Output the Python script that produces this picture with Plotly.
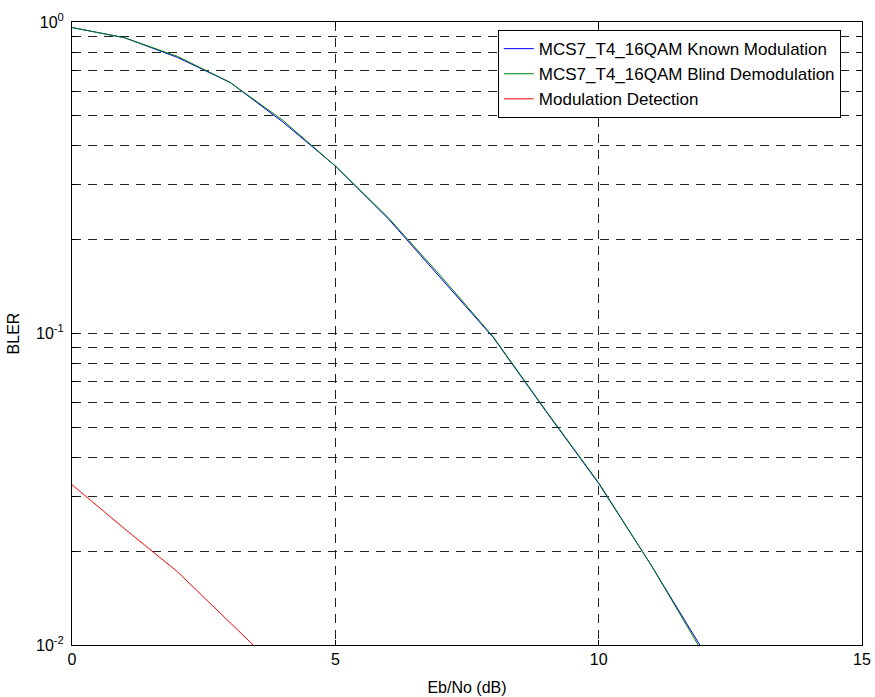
import plotly.graph_objects as go

# ---- data ----
ebno = [0, 1, 2, 3, 4, 5, 6, 7, 8, 9, 10, 11, 12]
bler_known = [0.960, 0.890, 0.770, 0.640, 0.478, 0.345, 0.234, 0.151, 0.0970, 0.0562, 0.0330, 0.0180, 0.0095]
bler_blind = [0.960, 0.890, 0.776, 0.640, 0.484, 0.345, 0.236, 0.153, 0.0975, 0.0565, 0.0332, 0.0180, 0.0093]
ebno_det = [0, 1, 2, 3, 4]
det_err = [0.0327, 0.0236, 0.0172, 0.0118, 0.0081]

x_ticks = [0, 5, 10, 15]
decades = [-2, -1, 0]

y_major = [10.0 ** d for d in decades]
y_major_text = [f"10<sup>{d}</sup>" for d in decades]
y_minor = [m * 10.0 ** d for d in decades[:-1] for m in range(2, 10)]

FONT = "Liberation Sans, Arial, sans-serif"
GRID = "#222"
DASH = "9px,7px"

fig = go.Figure()
fig.add_trace(go.Scatter(x=ebno, y=bler_known, mode="lines", name="MCS7_T4_16QAM Known Modulation",
                         line=dict(color="#0000ff", width=1), legendgroup="a"))
fig.add_trace(go.Scatter(x=ebno, y=bler_blind, mode="lines", name="MCS7_T4_16QAM Blind Demodulation",
                         line=dict(color="#008000", width=1), legendgroup="b"))
fig.add_trace(go.Scatter(x=ebno_det, y=det_err, mode="lines", name="Modulation Detection",
                         line=dict(color="#ff0000", width=1), legendgroup="c"))

fig.update_layout(
    width=875, height=697,
    margin=dict(l=72, r=13, t=22, b=52, autoexpand=False),
    paper_bgcolor="white", plot_bgcolor="white",
    font=dict(family=FONT, size=16, color="black"),
    showlegend=True,
    legend=dict(x=0.539, y=0.987, xanchor="left", yanchor="top",
                bgcolor="white", bordercolor="black", borderwidth=1,
                font=dict(family=FONT, size=17, color="black"),
                tracegroupgap=0),
    xaxis=dict(range=[0, 15], tickvals=x_ticks, ticktext=[str(v) for v in x_ticks],
               ticks="inside", ticklen=5, tickcolor="black", mirror="allticks",
               showline=True, linecolor="black", linewidth=1,
               showgrid=True, gridcolor=GRID, griddash=DASH, gridwidth=1,
               zeroline=False, automargin=False,
               title=dict(text="Eb/No (dB)", standoff=14, font=dict(size=16))),
    yaxis=dict(type="log", range=[-2, 0], tickvals=y_major, ticktext=y_major_text,
               ticks="inside", ticklen=5, tickcolor="black", mirror="allticks",
               showline=True, linecolor="black", linewidth=1,
               showgrid=True, gridcolor=GRID, griddash=DASH, gridwidth=1,
               ticklabelstandoff=4,
               minor=dict(tickmode="array", tickvals=y_minor, ticks="inside", ticklen=5,
                          tickcolor="black", showgrid=True, gridcolor=GRID,
                          griddash=DASH, gridwidth=1),
               zeroline=False, automargin=False,
               title=dict(text="BLER", standoff=12, font=dict(size=16))),
)

fig.write_html("out.html",
               config={"displayModeBar": False},
               post_script="document.body.style.margin='0';document.body.style.overflow='hidden';")
